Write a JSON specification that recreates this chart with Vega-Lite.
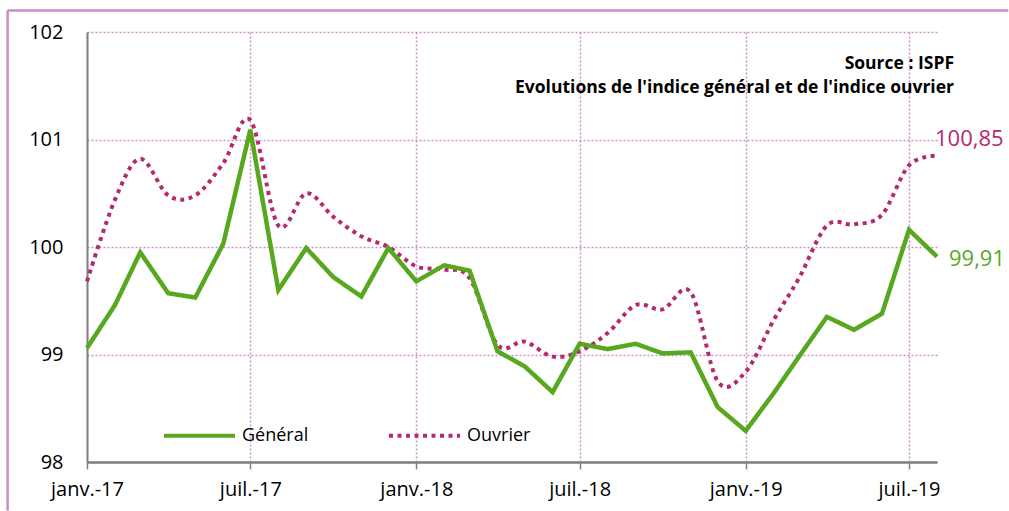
{
  "$schema": "https://vega.github.io/schema/vega-lite/v6.json",
  "width": 850,
  "height": 430,
  "autosize": {"type": "none"},
  "padding": {"left": 87, "top": 32, "right": 72, "bottom": 49},
  "background": "white",
  "config": {
    "locale": {"number": {"decimal": ",", "thousands": " ", "grouping": [3], "currency": ["", " €"]}},
    "view": {"stroke": null},
    "font": "Open Sans"
  },
  "title": {
    "text": "Source : ISPF",
    "subtitle": "Evolutions de l'indice général et de l'indice ouvrier",
    "anchor": "end", "frame": "group", "orient": "top", "offset": -73, "dx": 17, "dy": 14,
    "font": "Open Sans", "fontSize": 17.5, "fontWeight": "bold", "color": "black",
    "subtitleFont": "Open Sans", "subtitleFontSize": 17.5, "subtitleFontWeight": "bold",
    "subtitleColor": "black", "subtitlePadding": 6
  },
  "datasets": {
    "cadre": [{"debut": "2016-10-05T00:00:00", "fin": "2019-10-19T00:00:00", "haut": 102.2, "bas": 97.55}]
  },
  "data": {"values": [
    {"date": "2017-01-01", "serie": "Général", "valeur": 99.06}, {"date": "2017-01-01", "serie": "Ouvrier", "valeur": 99.68},
    {"date": "2017-02-01", "serie": "Général", "valeur": 99.46}, {"date": "2017-02-01", "serie": "Ouvrier", "valeur": 100.44},
    {"date": "2017-03-01", "serie": "Général", "valeur": 99.95}, {"date": "2017-03-01", "serie": "Ouvrier", "valeur": 100.82},
    {"date": "2017-04-01", "serie": "Général", "valeur": 99.57}, {"date": "2017-04-01", "serie": "Ouvrier", "valeur": 100.48},
    {"date": "2017-05-01", "serie": "Général", "valeur": 99.53}, {"date": "2017-05-01", "serie": "Ouvrier", "valeur": 100.48},
    {"date": "2017-06-01", "serie": "Général", "valeur": 100.03}, {"date": "2017-06-01", "serie": "Ouvrier", "valeur": 100.78},
    {"date": "2017-07-01", "serie": "Général", "valeur": 101.09}, {"date": "2017-07-01", "serie": "Ouvrier", "valeur": 101.18},
    {"date": "2017-08-01", "serie": "Général", "valeur": 99.60}, {"date": "2017-08-01", "serie": "Ouvrier", "valeur": 100.20},
    {"date": "2017-09-01", "serie": "Général", "valeur": 99.99}, {"date": "2017-09-01", "serie": "Ouvrier", "valeur": 100.50},
    {"date": "2017-10-01", "serie": "Général", "valeur": 99.72}, {"date": "2017-10-01", "serie": "Ouvrier", "valeur": 100.28},
    {"date": "2017-11-01", "serie": "Général", "valeur": 99.54}, {"date": "2017-11-01", "serie": "Ouvrier", "valeur": 100.10},
    {"date": "2017-12-01", "serie": "Général", "valeur": 99.99}, {"date": "2017-12-01", "serie": "Ouvrier", "valeur": 100.00},
    {"date": "2018-01-01", "serie": "Général", "valeur": 99.68}, {"date": "2018-01-01", "serie": "Ouvrier", "valeur": 99.82},
    {"date": "2018-02-01", "serie": "Général", "valeur": 99.83}, {"date": "2018-02-01", "serie": "Ouvrier", "valeur": 99.79},
    {"date": "2018-03-01", "serie": "Général", "valeur": 99.78}, {"date": "2018-03-01", "serie": "Ouvrier", "valeur": 99.71},
    {"date": "2018-04-01", "serie": "Général", "valeur": 99.03}, {"date": "2018-04-01", "serie": "Ouvrier", "valeur": 99.09},
    {"date": "2018-05-01", "serie": "Général", "valeur": 98.89}, {"date": "2018-05-01", "serie": "Ouvrier", "valeur": 99.12},
    {"date": "2018-06-01", "serie": "Général", "valeur": 98.65}, {"date": "2018-06-01", "serie": "Ouvrier", "valeur": 98.98},
    {"date": "2018-07-01", "serie": "Général", "valeur": 99.10}, {"date": "2018-07-01", "serie": "Ouvrier", "valeur": 99.03},
    {"date": "2018-08-01", "serie": "Général", "valeur": 99.05}, {"date": "2018-08-01", "serie": "Ouvrier", "valeur": 99.20},
    {"date": "2018-09-01", "serie": "Général", "valeur": 99.10}, {"date": "2018-09-01", "serie": "Ouvrier", "valeur": 99.46},
    {"date": "2018-10-01", "serie": "Général", "valeur": 99.01}, {"date": "2018-10-01", "serie": "Ouvrier", "valeur": 99.42},
    {"date": "2018-11-01", "serie": "Général", "valeur": 99.02}, {"date": "2018-11-01", "serie": "Ouvrier", "valeur": 99.58},
    {"date": "2018-12-01", "serie": "Général", "valeur": 98.51}, {"date": "2018-12-01", "serie": "Ouvrier", "valeur": 98.75},
    {"date": "2019-01-01", "serie": "Général", "valeur": 98.29}, {"date": "2019-01-01", "serie": "Ouvrier", "valeur": 98.84},
    {"date": "2019-02-01", "serie": "Général", "valeur": 98.64}, {"date": "2019-02-01", "serie": "Ouvrier", "valeur": 99.32},
    {"date": "2019-03-01", "serie": "Général", "valeur": 98.98}, {"date": "2019-03-01", "serie": "Ouvrier", "valeur": 99.71},
    {"date": "2019-04-01", "serie": "Général", "valeur": 99.35}, {"date": "2019-04-01", "serie": "Ouvrier", "valeur": 100.20},
    {"date": "2019-05-01", "serie": "Général", "valeur": 99.23}, {"date": "2019-05-01", "serie": "Ouvrier", "valeur": 100.21},
    {"date": "2019-06-01", "serie": "Général", "valeur": 99.38}, {"date": "2019-06-01", "serie": "Ouvrier", "valeur": 100.30},
    {"date": "2019-07-01", "serie": "Général", "valeur": 100.16}, {"date": "2019-07-01", "serie": "Ouvrier", "valeur": 100.76},
    {"date": "2019-08-01", "serie": "Général", "valeur": 99.91}, {"date": "2019-08-01", "serie": "Ouvrier", "valeur": 100.85}
  ]},
  "layer": [
    {
      "data": {"name": "cadre"},
      "mark": {"type": "rule", "color": "#c890c8", "strokeWidth": 2.5},
      "encoding": {
        "x": {"field": "debut", "type": "temporal"},
        "x2": {"field": "fin"},
        "y": {"field": "haut", "type": "quantitative"}
      }
    },
    {
      "data": {"name": "cadre"},
      "mark": {"type": "rule", "color": "#c890c8", "strokeWidth": 2.5},
      "encoding": {
        "x": {"field": "debut", "type": "temporal"},
        "y": {"field": "haut", "type": "quantitative"},
        "y2": {"field": "bas"}
      }
    },
    {
      "transform": [{"filter": "datum.serie == 'Ouvrier'"}],
      "mark": {"type": "line", "interpolate": "cardinal", "strokeWidth": 4},
      "encoding": {
        "x": {
          "field": "date", "type": "temporal",
          "scale": {"domain": [{"year": 2017, "month": 1, "date": 1}, {"year": 2019, "month": 8, "date": 1}]},
          "axis": {
            "title": null,
            "values": [
              {"year": 2017, "month": 1, "date": 1}, {"year": 2017, "month": 7, "date": 1},
              {"year": 2018, "month": 1, "date": 1}, {"year": 2018, "month": 7, "date": 1},
              {"year": 2019, "month": 1, "date": 1}, {"year": 2019, "month": 7, "date": 1}
            ],
            "labelExpr": "(month(datum.value) == 0 ? 'janv.-' : 'juil.-') + timeFormat(datum.value, '%y')",
            "grid": true, "gridColor": "#c98fc9", "gridDash": [2, 2], "gridWidth": 1.5,
            "domainColor": "#808080", "domainWidth": 2.5,
            "tickColor": "#808080", "tickWidth": 1.5, "tickSize": 7,
            "labelFont": "Open Sans", "labelFontSize": 20, "labelColor": "black", "labelPadding": 10,
            "labelFlush": false, "labelOverlap": false
          }
        },
        "y": {
          "field": "valeur", "type": "quantitative",
          "scale": {"domain": [98, 102], "zero": false, "nice": false},
          "axis": {
            "title": null, "values": [98, 99, 100, 101, 102], "format": ".0f",
            "grid": true, "gridColor": "#c98fc9", "gridDash": [2, 2], "gridWidth": 1.5,
            "ticks": false, "domainColor": "#808080", "domainWidth": 2,
            "labelFont": "Open Sans", "labelFontSize": 20, "labelColor": "black", "labelPadding": 24
          }
        },
        "color": {"field": "serie", "type": "nominal",
          "scale": {"domain": ["Général", "Ouvrier"], "range": ["#58a81f", "#b5296f"]},
          "legend": {"orient": "none", "legendX": 75, "legendY": 366, "direction": "horizontal", "title": null,
            "symbolType": "stroke", "symbolSize": 5041, "symbolStrokeWidth": 4,
            "labelFont": "Open Sans", "labelFontSize": 18, "labelColor": "black", "labelOffset": 5, "columnPadding": 72}},
        "strokeDash": {"field": "serie", "type": "nominal",
          "scale": {"domain": ["Général", "Ouvrier"], "range": [[1, 0], [4, 4.5]]},
          "legend": {"orient": "none", "legendX": 75, "legendY": 366, "direction": "horizontal", "title": null,
            "symbolType": "stroke", "symbolSize": 5041, "symbolStrokeWidth": 4,
            "labelFont": "Open Sans", "labelFontSize": 18, "labelColor": "black", "labelOffset": 5, "columnPadding": 72}}
      }
    },
    {
      "transform": [{"filter": "datum.serie == 'Général'"}],
      "mark": {"type": "line", "interpolate": "linear", "strokeWidth": 4.5},
      "encoding": {
        "x": {"field": "date", "type": "temporal"},
        "y": {"field": "valeur", "type": "quantitative"},
        "color": {"field": "serie", "type": "nominal"},
        "strokeDash": {"field": "serie", "type": "nominal"}
      }
    },
    {
      "transform": [{"filter": "datum.serie == 'Ouvrier' && datum.date >= datetime(2019, 6, 15)"}],
      "mark": {"type": "text", "align": "left", "baseline": "middle", "dx": -2, "dy": -17, "font": "Open Sans", "fontSize": 22, "color": "#b5296f"},
      "encoding": {
        "x": {"field": "date", "type": "temporal"},
        "y": {"field": "valeur", "type": "quantitative"},
        "text": {"field": "valeur", "type": "quantitative", "format": ".2f"}
      }
    },
    {
      "transform": [{"filter": "datum.serie == 'Général' && datum.date >= datetime(2019, 6, 15)"}],
      "mark": {"type": "text", "align": "left", "baseline": "middle", "dx": 12, "dy": 2, "font": "Open Sans", "fontSize": 22, "color": "#58a81f"},
      "encoding": {
        "x": {"field": "date", "type": "temporal"},
        "y": {"field": "valeur", "type": "quantitative"},
        "text": {"field": "valeur", "type": "quantitative", "format": ".2f"}
      }
    }
  ]
}
